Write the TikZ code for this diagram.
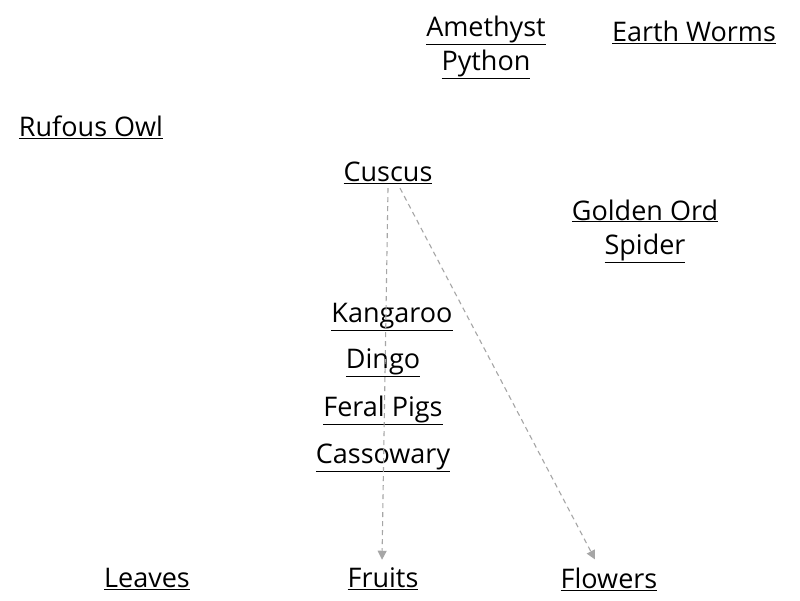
\documentclass[tikz,border=0pt]{standalone}
\usepackage{fontspec}
\setmainfont{Open Sans}
\usetikzlibrary{arrows.meta}
\begin{document}
\begin{tikzpicture}[x=1pt,y=-1pt,
  lbl/.style={font=\fontsize{27}{34}\selectfont, inner sep=1pt, align=center},
  link/.style={draw=gray!70, line width=1.1pt, dash pattern=on 5pt off 4pt,
    -{Triangle[width=9pt,length=9pt,fill=gray!70]}}]
\useasboundingbox[fill=white] (0,0) rectangle (800,600);
\node[lbl] (amethyst) at (486,47) {\underline{Amethyst}\\\underline{Python}};
\node[lbl] (worms) at (694,32) {\underline{Earth Worms}};
\node[lbl] (owl) at (91,127) {\underline{Rufous Owl}};
\node[lbl] (cuscus) at (388,173) {\underline{Cuscus}};
\node[lbl] (spider) at (645,231) {\underline{Golden Ord}\\\underline{Spider}};
\node[lbl] (kangaroo) at (392,317) {\underline{Kangaroo}};
\node[lbl] (dingo) at (383,363) {\underline{Dingo}};
\node[lbl] (pigs) at (383,410) {\underline{Feral Pigs}};
\node[lbl] (cassowary) at (383,458) {\underline{Cassowary}};
\node[lbl] (leaves) at (147,579) {\underline{Leaves}};
\node[lbl] (fruits) at (383,579) {\underline{Fruits}};
\node[lbl] (flowers) at (609,579) {\underline{Flowers}};
\draw[link] ([xshift=0pt,yshift=-3pt]cuscus.south) -- ([xshift=-1pt,yshift=7pt]fruits.north);
\draw[link] ([xshift=12pt,yshift=-3pt]cuscus.south) -- ([xshift=-14pt,yshift=7pt]flowers.north);
\end{tikzpicture}
\end{document}
